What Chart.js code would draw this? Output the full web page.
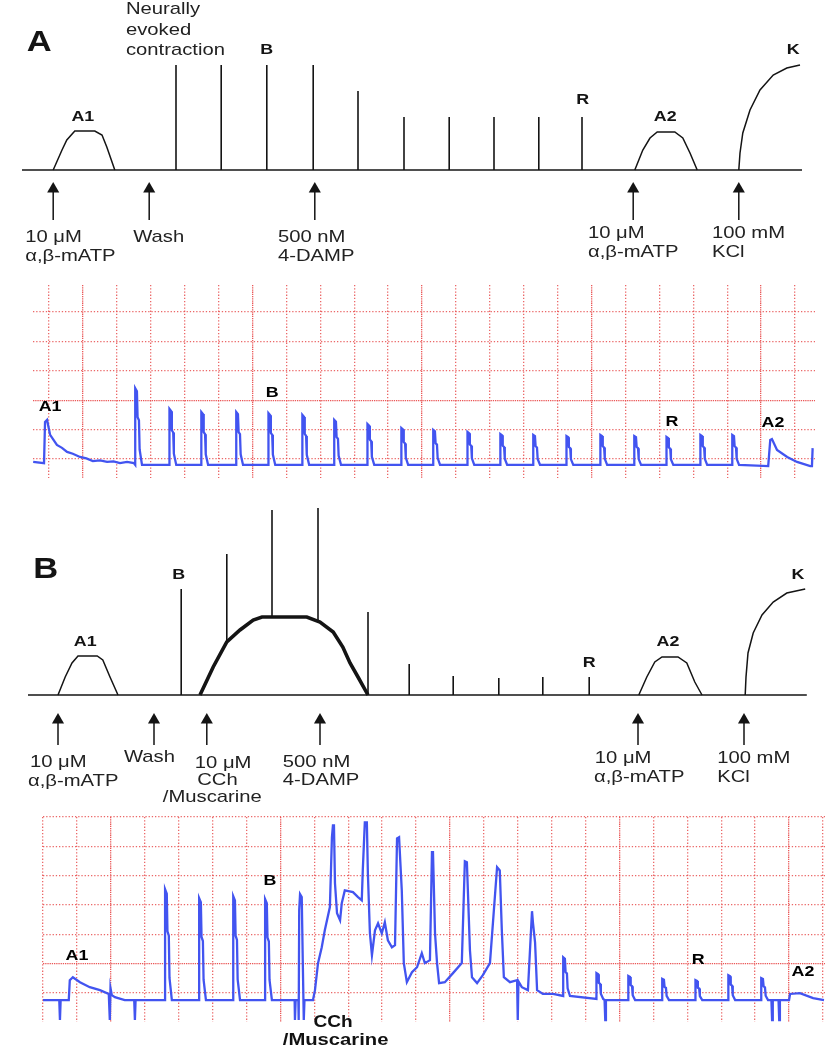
<!DOCTYPE html>
<html><head><meta charset="utf-8">
<script src="https://cdn.jsdelivr.net/npm/chart.js@4.4.1/dist/chart.umd.min.js"></script>
<style>
html,body{margin:0;padding:0;background:#fff;}
#wrap{position:relative;width:832px;height:1050px;overflow:hidden;background:#fff;}
canvas{position:absolute;left:0;}
</style></head><body>
<div id="wrap">
<canvas id="schemA" width="832" height="270" style="top:0px"></canvas>
<canvas id="traceA" width="832" height="215" style="top:270px"></canvas>
<canvas id="schemB" width="832" height="315" style="top:495px"></canvas>
<canvas id="traceB" width="832" height="245" style="top:805px"></canvas>
</div>
<script>
// ---------------- DATA ----------------
// Schematic A (time: arbitrary min, tension: arbitrary units, baseline = 0)
const schemA_baseline = [[0,0],[97.5,0]];
const schemA_A1 = [[3.9,0],[5.0,2.0],[5.6,3.0],[6.6,3.9],[9.1,3.9],[10.0,3.5],[10.6,2.3],[11.6,0]];
const schemA_spikeTimes = [19.25,24.9,30.6,36.4,42.0,47.75,53.4,59.0,64.6,70.0];
const schemA_spikeTops = [10.5,10.5,10.5,10.5,7.9,5.3,5.3,5.3,5.3,5.3];
const schemA_A2 = [[76.6,0],[77.6,2.0],[78.5,3.2],[79.4,3.8],[81.6,3.8],[82.6,3.2],[83.5,1.7],[84.4,0]];
const schemA_K = [[89.6,0],[89.75,1.7],[90.1,3.7],[91.0,6.0],[92.25,8.0],[93.9,9.5],[95.6,10.2],[97.25,10.5]];
const schemA_arrows = [3.9,15.9,36.6,76.4,89.6];

// Schematic B
const schemB_baseline = [[0.75,0],[98.1,0]];
const schemB_A1 = [[4.5,0],[5.4,1.8],[6.25,3.2],[7.0,3.9],[9.4,3.9],[10.1,3.5],[11.0,1.8],[12.0,0]];
const schemB_CCh = [[22.25,0],[23.9,2.8],[25.6,5.3],[27.25,6.5],[28.9,7.5],[30.0,7.8],[35.6,7.8],[37.25,7.3],[38.9,6.3],[40.1,4.8],[41.0,3.2],[42.0,1.8],[43.25,0]];
const schemB_spikeTimes = [19.9,25.6,31.25,37.0,43.25,48.4,53.9,59.6,65.1,70.9];
const schemB_spikeBases = [0,5.3,7.8,7.4,0,0,0,0,0,0];
const schemB_spikeTops = [10.6,14.1,18.5,18.7,8.3,3.1,1.9,1.7,1.8,1.8];
const schemB_A2 = [[77.1,0],[78.1,1.8],[79.1,3.3],[80.0,3.8],[82.0,3.8],[83.1,3.2],[84.1,1.3],[85.0,0]];
const schemB_K = [[90.4,0],[90.5,1.8],[90.75,4.2],[91.4,6.2],[92.5,8.0],[93.9,9.3],[95.6,10.2],[97.9,10.6]];
const schemB_arrows = [4.5,16.5,23.1,37.25,77.0,90.25];

// Trace A (x: chart divisions, y: chart divisions)
const traceA_gridX = [-1,0,1,2,3,4,5,6,7,8,9,10,11,12,13,14,15,16,17,18,19,20,21];
const traceA_gridXMajor = [0,5,10,15,20];
const traceA_gridY = [0,1,2,3,4,5];
const traceA_gridYMajor = [2];
const traceA_irregular = [
  [-1.47,-0.10],[-1.15,-0.14],[-1.12,1.26],[-1.06,1.33],[-1.00,0.99],[-0.97,0.82],[-0.77,0.48],
  [-0.62,0.38],[-0.47,0.24],[-0.30,0.18],[-0.09,0.07],[0.10,0.02],[0.29,-0.07],[0.50,-0.05],[0.71,-0.10],
  [0.90,-0.08],[1.09,-0.14],[1.30,-0.10],[1.50,-0.14],
  [20.21,-0.24],[20.27,0.65],[20.32,0.68],[20.47,0.31],[20.77,0.07],[21.06,-0.10],[21.45,-0.24],[21.50,-0.24],[21.52,0.37]
];
const traceA_spikeTimes = [1.59,2.60,3.54,4.57,5.52,6.52,7.46,8.44,9.44,10.38,11.39,12.36,13.33,14.31,15.31,16.31,17.26,18.26,19.20];
const traceA_spikePeaks = [2.41,1.70,1.60,1.60,1.56,1.50,1.33,1.19,1.05,0.99,0.92,0.85,0.82,0.78,0.82,0.78,0.75,0.82,0.82];
const traceA_spikeBase = -0.2;

// Trace B
const traceB_gridX = [-2,-1,0,1,2,3,4,5,6,7,8,9,10,11,12,13,14,15,16,17,18,19,20,21];
const traceB_gridXMajor = [0,5,10,15,20];
const traceB_gridY = [0,1,2,3,4,5,6];
const traceB_gridYMajor = [1];
const traceB_irregular = [
  [-2.0,-0.24],[-1.52,-0.24],[-1.50,-0.92],[-1.48,-0.24],[-1.24,-0.24],[-1.21,0.44],[-1.12,0.54],
  [-0.91,0.37],[-0.62,0.20],[-0.32,0.10],[-0.06,-0.03],[-0.03,-0.92],[-0.01,0.17],[0.03,-0.07],
  [0.12,-0.14],[0.41,-0.24],[0.69,-0.24],[0.71,-0.92],[0.73,-0.24],
  [5.28,-0.24],[5.42,-0.24],[5.43,-0.92],[5.45,-0.24],[5.53,-0.24],[5.54,-0.92],[5.555,2.82],[5.58,3.37],
  [5.63,3.27],[5.66,1.12],[5.68,-0.24],[5.69,-0.92],[5.71,-0.24],[5.96,-0.24],[6.02,0.10],[6.11,1.02],
  [6.22,1.56],[6.31,2.14],[6.46,2.93],[6.52,5.31],[6.55,5.71],[6.58,5.71],[6.61,3.74],[6.67,2.72],
  [6.76,2.48],[6.81,3.06],[6.90,3.50],[7.14,3.44],[7.29,3.27],[7.40,3.16],[7.43,4.18],[7.49,5.82],
  [7.55,5.82],[7.58,4.08],[7.64,2.04],[7.70,1.29],[7.79,2.14],[7.88,2.38],[7.99,2.04],[8.08,2.41],
  [8.17,1.80],[8.29,1.56],[8.38,1.63],[8.44,5.27],[8.50,5.31],[8.58,3.50],[8.64,1.02],[8.73,0.37],
  [8.88,0.71],[9.03,0.88],[9.17,1.36],[9.26,1.02],[9.41,1.12],[9.47,4.80],[9.50,4.80],[9.56,2.04],
  [9.62,1.02],[9.68,0.34],[9.85,0.37],[10.09,0.68],[10.35,1.02],[10.44,4.49],[10.50,4.46],[10.59,1.46],
  [10.65,0.54],[10.80,0.34],[10.97,0.61],[11.18,1.02],[11.39,4.29],[11.47,4.18],[11.53,2.14],[11.59,0.54],
  [11.77,0.37],[11.98,0.44],[12.00,-0.92],[12.02,0.40],[12.12,0.20],[12.30,0.10],[12.42,2.79],[12.45,2.38],
  [12.51,1.73],[12.57,0.10],[12.74,-0.03],[13.04,-0.03],
  [14.56,-0.24],[14.58,-0.92],[14.60,-0.24],
  [19.48,-0.24],[19.50,-0.92],[19.52,-0.24],[19.69,-0.24],[19.71,-0.92],[19.73,-0.24],
  [20.0,-0.24],[20.03,-0.03],[20.32,0.0],[20.71,-0.17],[21.03,-0.24]
];
const traceB_spikeTimes = [1.65,2.655,3.66,4.60,13.39,14.37,15.31,16.31,17.29,18.26,19.23];
const traceB_spikePeaks = [3.54,3.23,3.30,3.20,1.22,0.68,0.58,0.48,0.44,0.61,0.51];
const traceB_spikeBases = [-0.24,-0.24,-0.24,-0.24,-0.10,-0.20,-0.24,-0.24,-0.24,-0.24,-0.24];

// ---------------- HELPERS ----------------
const FONT = '"Liberation Sans", Arial, Helvetica, sans-serif';
const INK = '#141414';
const TRACE = 'rgb(66,84,240)';
const GRID_MINOR = 'rgba(232,78,78,0.85)';
const GRID_MAJOR = 'rgba(232,70,70,0.9)';
const TEXT_STRETCH = 1.19;

const pts = arr => arr.map(([x,y]) => ({x,y}));
function segments(xs, lows, highs) {
  const out = [];
  xs.forEach((x,i) => { out.push({x, y:lows[i]}, {x, y:highs[i]}, {x, y:null}); });
  return out;
}
// evoked contraction: fast rise, brief top, stepped relaxation (shape template)
const SPIKE_SHAPE = [[-0.05,0],[-0.05,1],[0.0,0.96],[0.02,0.62],[0.06,0.58],[0.08,0.2],[0.15,0]];
function buildTrace(irregular, times, peaks, bases) {
  const all = irregular.map(([x,y]) => ({x,y}));
  times.forEach((t,i) => {
    const b = Array.isArray(bases) ? bases[i] : bases;
    SPIKE_SHAPE.forEach(([dx,f]) => all.push({x: t+dx, y: b + f*(peaks[i]-b)}));
  });
  return all.map((p,i)=>({p,i})).sort((a,b)=> a.p.x-b.p.x || a.i-b.i).map(o=>o.p);
}

const labelPlugin = {
  id: 'textLabels',
  afterDatasetsDraw(chart, args, opts) {
    const ctx = chart.ctx, xs = chart.scales.x, ys = chart.scales.y;
    (opts.items || []).forEach(it => {
      ctx.save();
      ctx.font = it.font;
      ctx.fillStyle = it.color || INK;
      ctx.textAlign = it.align || 'left';
      ctx.textBaseline = 'middle';
      ctx.translate(xs.getPixelForValue(it.x), ys.getPixelForValue(it.y));
      ctx.scale(TEXT_STRETCH, 1);
      ctx.fillText(it.text, 0, 0);
      ctx.restore();
    });
  }
};

const lineDs = (data, w) => ({type:'scatter', data, showLine:true, borderColor:INK, backgroundColor:INK,
  borderWidth:w||1.5, pointRadius:0, tension:0, spanGaps:false});

function schematic(id, parts, yr, items) {
  const ds = [];
  parts.curves.forEach(c => ds.push(lineDs(pts(c), 1.5)));
  if (parts.thick) ds.push(lineDs(pts(parts.thick), 3.6));
  ds.push(lineDs(segments(parts.spikeX, parts.spikeLow, parts.spikeHigh), 1.6));
  ds.push(lineDs(segments(parts.arrows, parts.arrows.map(()=>parts.arrowBottom), parts.arrows.map(()=>parts.arrowHead)), 1.5));
  ds.push({type:'scatter', data: parts.arrows.map(x=>({x, y:parts.arrowHead})), pointStyle:'triangle',
    pointRadius:7, backgroundColor:INK, borderColor:INK, borderWidth:0, showLine:false});
  new Chart(document.getElementById(id), {
    type:'scatter',
    data:{datasets: ds},
    options:{
      responsive:false, animation:false, events:[],
      layout:{padding:0, autoPadding:false},
      plugins:{legend:{display:false}, tooltip:{enabled:false}, textLabels:{items}},
      scales:{
        x:{type:'linear', display:false, min:-2.75, max:101.25},
        y:{type:'linear', display:false, min:yr[0], max:yr[1]}
      }
    },
    plugins:[labelPlugin]
  });
}

function gridAxis(axis, pos, min, max, ticks, majors, isMajor) {
  return {
    type:'linear', axis, position:pos, min, max,
    afterBuildTicks: s => { s.ticks = ticks.map(v => ({value:v})); },
    ticks:{display:false},
    grid:{drawTicks:false, lineWidth: 1.3,
      color: c => isMajor ? GRID_MAJOR : (c.tick && majors.includes(c.tick.value) ? 'rgba(0,0,0,0)' : GRID_MINOR)},
    border:{display:false, dash: isMajor ? [1.3,0.9] : [1.3,1.9]}
  };
}

function trace(id, data, pad, xr, yr, gx, gxM, gy, gyM, items) {
  new Chart(document.getElementById(id), {
    type:'scatter',
    data:{datasets:[{data, showLine:true, borderColor:TRACE, backgroundColor:TRACE, borderWidth:2.3,
      pointRadius:0, tension:0, borderJoinStyle:'miter'}]},
    options:{
      responsive:false, animation:false, events:[],
      layout:{padding:pad, autoPadding:false},
      plugins:{legend:{display:false}, tooltip:{enabled:false}, textLabels:{items}},
      scales:{
        x: gridAxis('x','bottom',xr[0],xr[1],gx,gxM,false),
        x2: gridAxis('x','bottom',xr[0],xr[1],gxM,gxM,true),
        y: gridAxis('y','left',yr[0],yr[1],gy,gyM,false),
        y2: gridAxis('y','left',yr[0],yr[1],gyM,gyM,true)
      }
    },
    plugins:[labelPlugin]
  });
}

// ---------------- CHARTS ----------------
const F = (s,b) => (b?'bold ':'') + s + 'px ' + FONT;

schematic('schemA', {
  curves:[schemA_baseline, schemA_A1, schemA_A2, schemA_K],
  spikeX: schemA_spikeTimes, spikeLow: schemA_spikeTimes.map(()=>0), spikeHigh: schemA_spikeTops,
  arrows: schemA_arrows, arrowBottom:-5.0, arrowHead:-1.9
}, [-10, 17], [
  {text:'A', x:0.6, y:12.7, font:F(29,true)},
  {text:'Neurally', x:13.0, y:16.1, font:F(17), color:'#222'},
  {text:'evoked', x:13.0, y:14.0, font:F(17), color:'#222'},
  {text:'contraction', x:13.0, y:12.0, font:F(17), color:'#222'},
  {text:'B', x:30.6, y:12.0, font:F(15,true), align:'center'},
  {text:'A1', x:7.6, y:5.3, font:F(15,true), align:'center'},
  {text:'R', x:70.1, y:7.0, font:F(15,true), align:'center'},
  {text:'A2', x:80.4, y:5.3, font:F(15,true), align:'center'},
  {text:'K', x:96.4, y:12.0, font:F(15,true), align:'center'},
  {text:'10 \u03bcM', x:0.4, y:-6.7, font:F(17), color:'#222'},
  {text:'\u03b1,\u03b2-mATP', x:0.4, y:-8.6, font:F(17), color:'#222'},
  {text:'Wash', x:13.9, y:-6.7, font:F(17), color:'#222'},
  {text:'500 nM', x:32.0, y:-6.7, font:F(17), color:'#222'},
  {text:'4-DAMP', x:32.0, y:-8.6, font:F(17), color:'#222'},
  {text:'10 \u03bcM', x:70.75, y:-6.3, font:F(17), color:'#222'},
  {text:'\u03b1,\u03b2-mATP', x:70.75, y:-8.2, font:F(17), color:'#222'},
  {text:'100 mM', x:86.25, y:-6.3, font:F(17), color:'#222'},
  {text:'KCl', x:86.25, y:-8.2, font:F(17), color:'#222'}
]);

trace('traceA', buildTrace(traceA_irregular, traceA_spikeTimes, traceA_spikePeaks, traceA_spikeBase),
  {left:33, right:17, top:15, bottom:7}, [-1.475, 21.59], [-0.646, 5.918],
  traceA_gridX, traceA_gridXMajor, traceA_gridY, traceA_gridYMajor, [
  {text:'A1', x:-0.97, y:1.77, font:F(15,true), align:'center', color:'#000'},
  {text:'B', x:5.58, y:2.24, font:F(15,true), align:'center', color:'#000'},
  {text:'R', x:17.37, y:1.26, font:F(15,true), align:'center', color:'#000'},
  {text:'A2', x:20.35, y:1.22, font:F(15,true), align:'center', color:'#000'}
]);

schematic('schemB', {
  curves:[schemB_baseline, schemB_A1, schemB_A2, schemB_K],
  thick: schemB_CCh,
  spikeX: schemB_spikeTimes, spikeLow: schemB_spikeBases, spikeHigh: schemB_spikeTops,
  arrows: schemB_arrows, arrowBottom:-5.0, arrowHead:-2.5
}, [-11.5, 20], [
  {text:'B', x:1.4, y:12.5, font:F(29,true)},
  {text:'B', x:19.6, y:12.0, font:F(15,true), align:'center'},
  {text:'A1', x:7.9, y:5.3, font:F(15,true), align:'center'},
  {text:'R', x:70.9, y:3.2, font:F(15,true), align:'center'},
  {text:'A2', x:80.75, y:5.3, font:F(15,true), align:'center'},
  {text:'K', x:97.0, y:12.0, font:F(15,true), align:'center'},
  {text:'10 \u03bcM', x:1.0, y:-6.7, font:F(17), color:'#222'},
  {text:'\u03b1,\u03b2-mATP', x:0.75, y:-8.6, font:F(17), color:'#222'},
  {text:'Wash', x:12.75, y:-6.2, font:F(17), color:'#222'},
  {text:'10 \u03bcM', x:21.6, y:-6.8, font:F(17), color:'#222'},
  {text:'CCh', x:21.9, y:-8.5, font:F(17), color:'#222'},
  {text:'/Muscarine', x:17.6, y:-10.2, font:F(17), color:'#222'},
  {text:'500 nM', x:32.6, y:-6.7, font:F(17), color:'#222'},
  {text:'4-DAMP', x:32.6, y:-8.5, font:F(17), color:'#222'},
  {text:'10 \u03bcM', x:71.6, y:-6.3, font:F(17), color:'#222'},
  {text:'\u03b1,\u03b2-mATP', x:71.5, y:-8.2, font:F(17), color:'#222'},
  {text:'100 mM', x:86.9, y:-6.3, font:F(17), color:'#222'},
  {text:'KCl', x:86.9, y:-8.2, font:F(17), color:'#222'}
]);

trace('traceB', buildTrace(traceB_irregular, traceB_spikeTimes, traceB_spikePeaks, traceB_spikeBases),
  {left:43, right:7, top:12, bottom:28}, [-2.0, 21.06], [-0.986, 6.0],
  traceB_gridX, traceB_gridXMajor, traceB_gridY, traceB_gridYMajor, [
  {text:'A1', x:-1.0, y:1.26, font:F(15,true), align:'center', color:'#000'},
  {text:'B', x:4.69, y:3.84, font:F(15,true), align:'center', color:'#000'},
  {text:'R', x:17.32, y:1.12, font:F(15,true), align:'center', color:'#000'},
  {text:'A2', x:20.41, y:0.71, font:F(15,true), align:'center', color:'#000'},
  {text:'CCh', x:6.55, y:-0.99, font:F(16,true), align:'center', color:'#111'},
  {text:'/Muscarine', x:5.07, y:-1.60, font:F(17,true), color:'#111'}
]);
</script>
</body></html>
